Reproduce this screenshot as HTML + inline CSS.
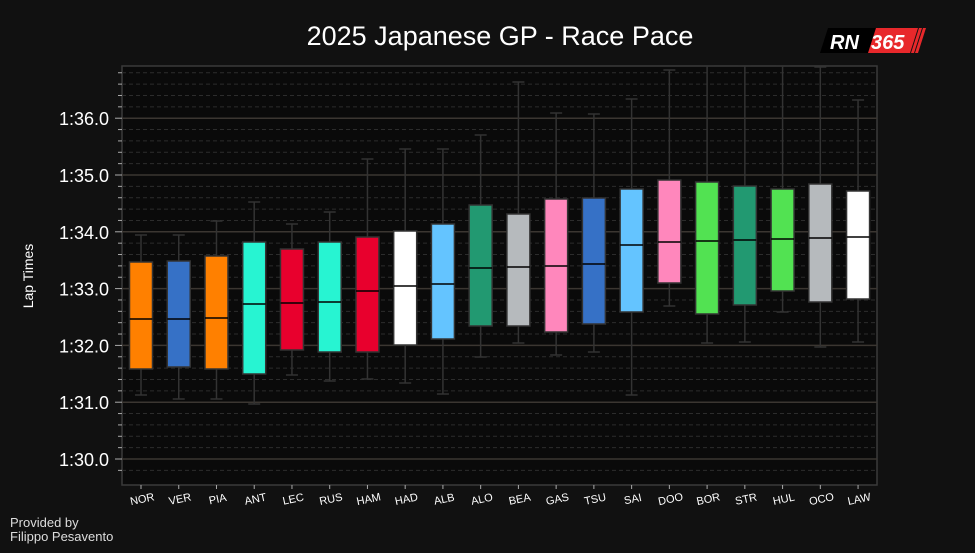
<!DOCTYPE html>
<html><head><style>
body{margin:0;background:#111111;width:975px;height:548px;overflow:hidden;font-family:"Liberation Sans","DejaVu Sans",sans-serif}
</style></head><body>
<svg width="975" height="548" xmlns="http://www.w3.org/2000/svg">
<rect width="975" height="548" fill="#111111"/>
<text x="500" y="45" fill="#ffffff" font-size="27" text-anchor="middle" font-family="Liberation Sans, sans-serif">2025 Japanese GP - Race Pace</text>
<!-- logo -->
<polygon points="828,28 876,28 868,53 820,53" fill="#000"/>
<polygon points="876,28 918,28 910,53 868,53" fill="#e8282b"/>
<polygon points="919,28 922,28 914,53 911,53" fill="#e8282b"/>
<polygon points="923,28 926,28 918,53 915,53" fill="#e8282b"/>
<text x="830" y="49" fill="#fff" font-size="20" font-weight="bold" font-style="italic">RN</text>
<text x="871" y="49" fill="#fff" font-size="20" font-weight="bold" font-style="italic">365</text>
<rect x="122" y="66" width="755" height="419" fill="#0a0a0a" stroke="#3a3a3a" stroke-width="1.5"/>
<g id="grid"></g>
<g id="boxes"></g>
<text transform="translate(33,276) rotate(-90)" fill="#fff" font-size="14" text-anchor="middle">Lap Times</text>
<text x="10" y="527" fill="#ddd" font-size="13">Provided by</text>
<text x="10" y="541" fill="#ddd" font-size="13">Filippo Pesavento</text>
</svg>
<script>
const ns="http://www.w3.org/2000/svg";
const g=document.getElementById('grid'),b=document.getElementById('boxes');
function el(p,t,a,txt){const e=document.createElementNS(ns,t);for(const k in a)e.setAttribute(k,a[k]);if(txt)e.textContent=txt;p.appendChild(e);return e;}
const y0=459,ps=56.8;
for(let i=-1;i<40;i++){const y=y0-i*ps/5;if(y<68||y>484)continue;
 const major=i%5==0;
 el(g,'line',{x1:122,x2:877,y1:y,y2:y,stroke:major?'#3b3631':'#2c2c2c','stroke-width':major?1.5:1,'stroke-dasharray':major?'':'4,3'});
 el(g,'line',{x1:major?115:118,x2:122,y1:y,y2:y,stroke:'#aaa','stroke-width':1});
 if(major){const s=30+i/5;el(g,'text',{x:109,y:y+7,fill:'#fff','font-size':18,'text-anchor':'end'},'1:'+s+'.0');}
}
const d=[["NOR",235,262,319,369,395,"#FF8000"],["VER",235,261,319,367,399,"#3671C6"],["PIA",221,256,318,369,399,"#FF8000"],["ANT",202,242,304,374,404,"#27F4D2"],["LEC",224,249,303,350,375,"#E8002D"],["RUS",212,242,302,352,381,"#27F4D2"],["HAM",159,237,291,352,379,"#E8002D"],["HAD",149,231,286,345,383,"#FFFFFF"],["ALB",149,224,284,339,394,"#64C4FF"],["ALO",135,205,268,326,357,"#229971"],["BEA",82,214,267,326,343,"#B6BABD"],["GAS",113,199,266,332,355,"#FF87BC"],["TSU",114,198,264,324,352,"#3671C6"],["SAI",99,189,245,312,395,"#64C4FF"],["DOO",70,180,242,283,306,"#FF87BC"],["BOR",66,182,241,314,343,"#52E252"],["STR",66,186,240,305,342,"#229971"],["HUL",66,189,239,291,312,"#52E252"],["OCO",67,184,238,302,347,"#B6BABD"],["LAW",100,191,237,299,342,"#FFFFFF"]];
d.forEach((r,i)=>{const x=141+i*37.74,c='#333';
 el(b,'line',{x1:x,x2:x,y1:r[1],y2:r[2],stroke:c,'stroke-width':1.5});
 el(b,'line',{x1:x,x2:x,y1:r[4],y2:r[5],stroke:c,'stroke-width':1.5});
 el(b,'line',{x1:x-6,x2:x+6,y1:r[1],y2:r[1],stroke:c,'stroke-width':1.5});
 el(b,'line',{x1:x-6,x2:x+6,y1:r[5],y2:r[5],stroke:c,'stroke-width':1.5});
 el(b,'rect',{x:x-11.5,y:r[2],width:23,height:r[4]-r[2],fill:r[6],stroke:c,'stroke-width':1.5});
 el(b,'line',{x1:x-11.5,x2:x+11.5,y1:r[3],y2:r[3],stroke:'#000','stroke-width':1.5});
 el(b,'line',{x1:x,x2:x,y1:485,y2:489,stroke:'#aaa'});
 el(b,'text',{x:x+2,y:503,fill:'#fff','font-size':11,'text-anchor':'middle',transform:`rotate(-12 ${x} 503)`},r[0]);
});
</script>
</body></html>
